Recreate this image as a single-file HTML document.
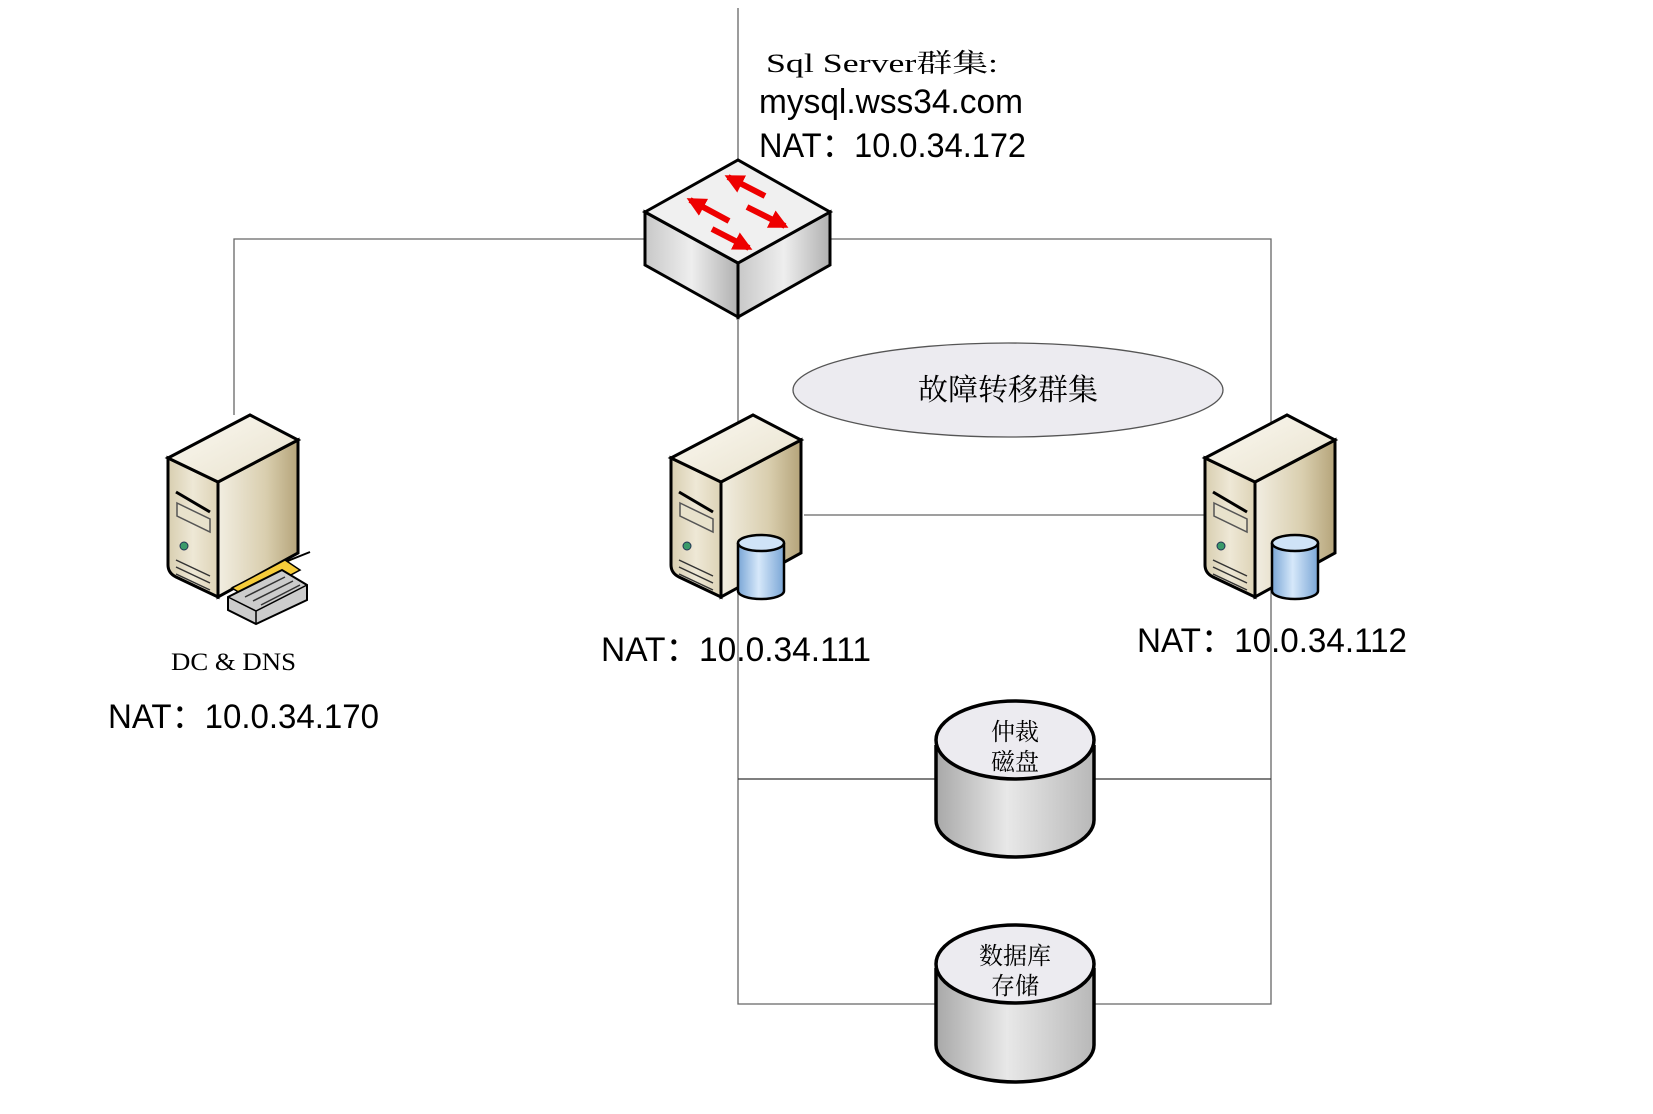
<!DOCTYPE html>
<html><head><meta charset="utf-8"><style>body{margin:0;background:#fff}svg{display:block}</style></head><body>
<svg width="1653" height="1114" viewBox="0 0 1653 1114" xmlns="http://www.w3.org/2000/svg">
<defs>
<linearGradient id="fr" x1="0" x2="1"><stop offset="0" stop-color="#d8ceb0"/><stop offset="0.5" stop-color="#eee8d6"/><stop offset="1" stop-color="#ddd3b6"/></linearGradient>
<linearGradient id="rt" x1="0" x2="1"><stop offset="0" stop-color="#f2eee2"/><stop offset="0.6" stop-color="#d9ceae"/><stop offset="1" stop-color="#b5a47a"/></linearGradient>
<linearGradient id="tp" x1="0" y1="0" x2="1" y2="1"><stop offset="0" stop-color="#fbf9f2"/><stop offset="1" stop-color="#e8e1cc"/></linearGradient>
<linearGradient id="sw" x1="0" x2="1"><stop offset="0" stop-color="#c8c8c8"/><stop offset="0.5" stop-color="#eeeeee"/><stop offset="1" stop-color="#b0b0b0"/></linearGradient>
<linearGradient id="cy" x1="0" x2="1"><stop offset="0" stop-color="#a8a8a8"/><stop offset="0.45" stop-color="#e8e8e8"/><stop offset="1" stop-color="#b8b8b8"/></linearGradient>
<linearGradient id="bc" x1="0" x2="1"><stop offset="0" stop-color="#7aa6d6"/><stop offset="0.45" stop-color="#d6e8fa"/><stop offset="1" stop-color="#7aa6d6"/></linearGradient>
<g id="srv">
<path d="M0,43 L50,67 L50,182 L8,162 Q0,158 0,150 Z" fill="url(#fr)" stroke="#000" stroke-width="3"/>
<path d="M50,67 L130,25 L130,138 L50,182 Z" fill="url(#rt)" stroke="#000" stroke-width="3"/>
<path d="M0,43 L82,0 L130,25 L50,67 Z" fill="url(#tp)" stroke="#000" stroke-width="3"/>
<path d="M8,77 L42,97" stroke="#000" stroke-width="3"/>
<path d="M9,88 L42,104 L42,117 L9,101 Z" fill="#e8e2cc" stroke="#555" stroke-width="1.5"/>
<circle cx="16" cy="131" r="4" fill="#3a9a6a" stroke="#235" stroke-width="1"/>
<path d="M8,152 L42,168 M8,159 L42,175 M8,145 L42,161" stroke="#333" stroke-width="1.5"/>
</g>
<g id="db">
<path d="M-23,-24 L-23,24 A23,8 0 0 0 23,24 L23,-24" fill="url(#bc)" stroke="#000" stroke-width="2.5"/>
<ellipse cx="0" cy="-24" rx="23" ry="8" fill="#cfe3f7" stroke="#000" stroke-width="2.5"/>
</g>
<marker id="ah" viewBox="0 0 10 10" refX="8" refY="5" markerWidth="3.2" markerHeight="3.2" orient="auto"><path d="M0,0 L10,5 L0,10 Z" fill="#e00"/></marker>
</defs>
<g stroke="#666" stroke-width="1.3" fill="none">
<path d="M738,8 V160"/>
<path d="M234,415 V239 H1271 V1004 H738 V263"/>
<path d="M804,515 H1205"/>
<path d="M738,779 H1271" stroke="#333"/>
</g>
<!-- switch -->
<path d="M645,212 L738,263 L738,317 L645,265 Z" fill="url(#sw)" stroke="#000" stroke-width="3"/>
<path d="M738,263 L830,212 L830,265 L738,317 Z" fill="url(#sw)" stroke="#000" stroke-width="3"/>
<path d="M645,212 L738,160 L830,212 L738,263 Z" fill="#f0f0f0" stroke="#000" stroke-width="3"/>
<g stroke="#e00" stroke-width="6" fill="none" marker-end="url(#ah)">
<path d="M765,196 L728,177"/>
<path d="M729,221 L690,200"/>
<path d="M747,207 L785,226"/>
<path d="M712,229 L749,248"/>
</g>
<ellipse cx="1008" cy="390" rx="215" ry="47" fill="#ecebf0" stroke="#555" stroke-width="1.3"/>
<!-- servers -->
<use href="#srv" x="168" y="415"/>
<use href="#srv" x="671" y="415"/>
<use href="#srv" x="1205" y="415"/>
<use href="#db" x="761" y="567"/>
<use href="#db" x="1295" y="567"/>
<!-- fax on left server -->
<path d="M232,588 L290,560 L310,552" stroke="#000" stroke-width="2" fill="#f6cc3a"/>
<path d="M232,588 L285,560 L300,570 L248,598 Z" fill="#f6cc3a" stroke="#000" stroke-width="1.5"/>
<path d="M228,597 L282,570 L307,585 L307,600 L256,624 L228,610 Z" fill="#ccc" stroke="#000" stroke-width="2"/>
<path d="M228,597 L256,611 L307,585 M256,611 V624" stroke="#000" stroke-width="1.5" fill="none"/>
<path d="M245,597 L285,577 M253,601 L293,581 M261,605 L300,585" stroke="#333" stroke-width="1.5"/>
<!-- disks -->
<g stroke="#000" stroke-width="3.5">
<path d="M936,745 V820 A79,37 0 0 0 1094,820 V745" fill="url(#cy)"/>
<ellipse cx="1015" cy="740" rx="79" ry="39" fill="#ecebf0"/>
<path d="M936,968 V1045 A79,37 0 0 0 1094,1045 V968" fill="url(#cy)"/>
<ellipse cx="1015" cy="964" rx="79" ry="39" fill="#ecebf0"/>
</g>
<g font-family="'Liberation Serif','Noto Serif CJK SC',serif" fill="#000">
<text x="766" y="72" font-size="26" textLength="232" lengthAdjust="spacingAndGlyphs">Sql Server群集:</text>
<text x="171" y="670" font-size="25" textLength="125" lengthAdjust="spacingAndGlyphs">DC &amp; DNS</text>
<text x="1008" y="400" font-size="30" text-anchor="middle">故障转移群集</text>
<text x="1015" y="740" font-size="24" text-anchor="middle">仲裁</text>
<text x="1015" y="770" font-size="24" text-anchor="middle">磁盘</text>
<text x="1015" y="964" font-size="24" text-anchor="middle">数据库</text>
<text x="1015" y="994" font-size="24" text-anchor="middle">存储</text>
</g>
<g font-family="'Liberation Sans','Noto Sans CJK SC',sans-serif" fill="#000" font-size="34">
<text x="759" y="113" textLength="264" lengthAdjust="spacingAndGlyphs">mysql.wss34.com</text>
<text x="759" y="157" textLength="267" lengthAdjust="spacingAndGlyphs">NAT：10.0.34.172</text>
<text x="601" y="661" textLength="270" lengthAdjust="spacingAndGlyphs">NAT：10.0.34.111</text>
<text x="1137" y="652" textLength="270" lengthAdjust="spacingAndGlyphs">NAT：10.0.34.112</text>
<text x="108" y="728" textLength="271" lengthAdjust="spacingAndGlyphs">NAT：10.0.34.170</text>
</g>
</svg>
</body></html>
